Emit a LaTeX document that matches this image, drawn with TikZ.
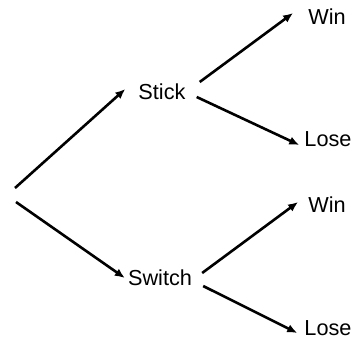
\documentclass[tikz,border=0pt]{standalone}
\usepackage{fontspec}
\setmainfont{Liberation Sans}
\usetikzlibrary{arrows.meta}
\tikzset{
  choice/.style={inner sep=0pt,font=\fontsize{21.7}{26}\selectfont},
  branch/.style={line width=2.6pt,-{Latex[length=10pt,width=8.5pt]}}
}
\begin{document}
\begin{tikzpicture}[x=1pt,y=-1pt]
\useasboundingbox (0,0) rectangle (359,341);
\coordinate (root) at (15,195);
\node[choice] (stick) at (162,92) {Stick};
\node[choice] (switch) at (160,278) {Switch};
\node[choice] (win1) at (327,17) {Win};
\node[choice] (lose1) at (328,139) {Lose};
\node[choice] (win2) at (327,205) {Win};
\node[choice] (lose2) at (328,328) {Lose};
\draw[branch] ([yshift=7pt]root) -- ([xshift=-13pt,yshift=3pt]stick.west);
\draw[branch] ([xshift=1pt,yshift=-7pt]root) -- ([xshift=-3pt]switch.west);
\draw[branch] ([xshift=14pt,yshift=10pt]stick.east) -- ([xshift=-15pt,yshift=4pt]win1.west);
\draw[branch] ([xshift=11pt,yshift=-5pt]stick.east) -- ([xshift=-5pt,yshift=-6pt]lose1.west);
\draw[branch] ([xshift=10pt,yshift=5pt]switch.east) -- ([xshift=-10pt,yshift=3pt]win2.west);
\draw[branch] ([xshift=11pt,yshift=-8pt]switch.east) -- ([xshift=-7pt,yshift=-5pt]lose2.west);
\end{tikzpicture}
\end{document}
